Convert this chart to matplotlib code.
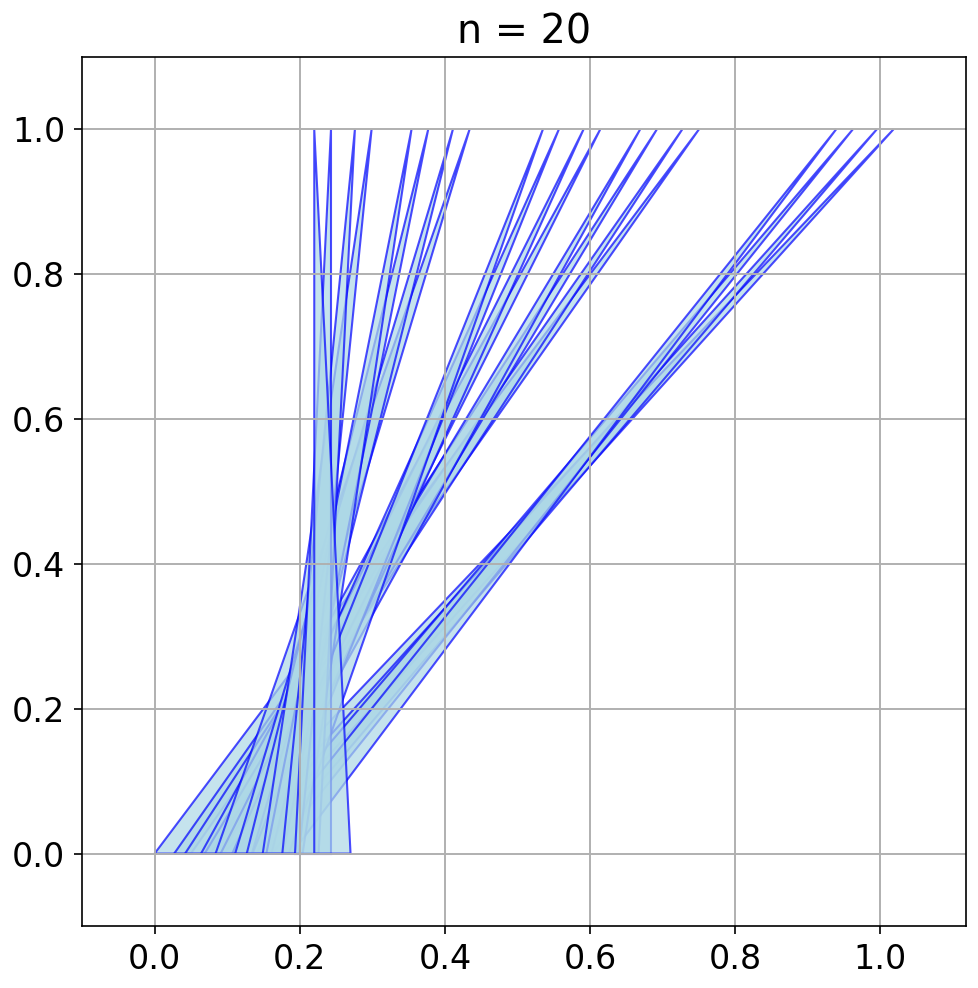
import matplotlib
matplotlib.use("Agg")
import numpy as np
from matplotlib import pyplot as plt

# triangles: apex on y=1, base on y=0
apex_x = [1.018, 0.995, 0.962, 0.939, 0.750, 0.727, 0.692, 0.669,
          0.614, 0.591, 0.557, 0.535, 0.434, 0.411, 0.377, 0.354,
          0.299, 0.276, 0.243, 0.220]
base_left = [0.068, 0.095, 0.112, 0.139, 0.000, 0.027, 0.042, 0.069,
             0.064, 0.091, 0.107, 0.135, 0.084, 0.111, 0.127, 0.154,
             0.149, 0.176, 0.193, 0.220]
base_right = [0.118, 0.145, 0.162, 0.189, 0.050, 0.077, 0.092, 0.119,
              0.114, 0.141, 0.157, 0.185, 0.134, 0.161, 0.177, 0.204,
              0.199, 0.226, 0.243, 0.270]
n = len(apex_x)

fig = plt.figure(figsize=(9.79, 9.88), dpi=100)
ax = fig.add_axes([82 / 979, 1 - 926 / 988, 884 / 979, 869 / 988])

for a, l, r in zip(apex_x, base_left, base_right):
    ax.fill([l, r, a], [0, 0, 1], facecolor="lightblue", edgecolor="blue",
            alpha=0.7, linewidth=1.5)

ax.set_xlim(min(base_left) - 0.1, max(apex_x) + 0.1)
ax.set_ylim(-0.1, 1.1)
ax.set_xticks(np.arange(0, 1.01, 0.2))
ax.set_yticks(np.arange(0, 1.01, 0.2))
ax.tick_params(labelsize=24, length=6, width=1.2, pad=6)
for s in ax.spines.values():
    s.set_linewidth(1.2)
ax.grid(linewidth=1.4)
ax.set_title(f"n = {n}", fontsize=28.5, pad=10)

fig.savefig("out.png", dpi=100)
